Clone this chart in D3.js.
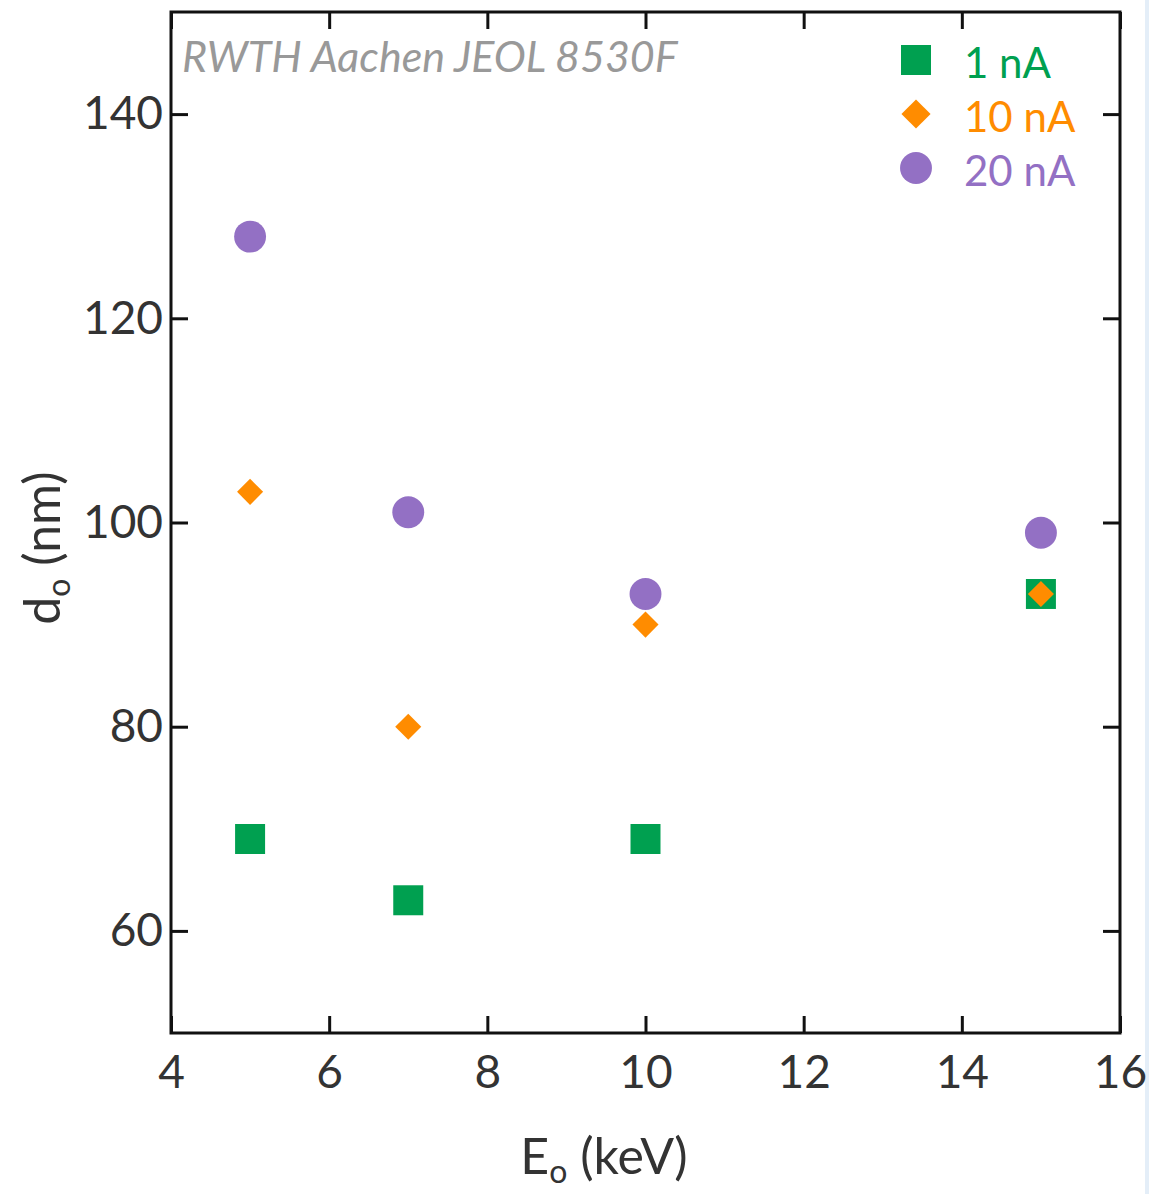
<!DOCTYPE html>
<html><head><meta charset="utf-8">
<script src="https://cdn.jsdelivr.net/npm/d3@7"></script>
<style>html,body{margin:0;padding:0;background:#fff;}svg{display:block;}</style>
</head><body>
<script>
const energies = [5, 7, 10, 15];
const d1nA = [69, 63, 69, 93];
const d10nA = [103, 80, 90, 93];
const d20nA = [128, 101, 93, 99];
const seriesNames = ["1 nA", "10 nA", "20 nA"];
const xTicks = [4, 6, 8, 10, 12, 14, 16];
const yTicks = [60, 80, 100, 120, 140];
const colors = ["#00a050", "#ff8c00", "#9370c4"];

const W = 1149, H = 1194;
const m = {l: 171, r: 1120, t: 12, b: 1033};
const svg = d3.select("body").append("svg").attr("width", W).attr("height", H);
svg.append("rect").attr("x", 1145).attr("y", 0).attr("width", 4).attr("height", H).attr("fill", "#e4eef8");

const x = d3.scaleLinear().domain([4, 16]).range([m.l, m.r]);
const y = d3.scaleLinear().domain([50, 150]).range([m.b, m.t]);
const font = "Lato, 'Open Sans', sans-serif";
const tickLen = 17;

function styleAxis(g) {
  g.select(".domain").remove();
  g.selectAll(".tick line").attr("stroke", "#111").attr("stroke-width", 3);
  g.selectAll(".tick text").attr("fill", "#333").style("font-family", font).style("font-size", "46px");
}
svg.append("g").attr("transform", `translate(0,${m.b})`)
  .call(d3.axisBottom(x).tickValues(xTicks).tickSizeInner(-tickLen).tickPadding(22).tickFormat(d3.format("d")))
  .call(styleAxis);
svg.append("g").attr("transform", `translate(0,${m.t})`)
  .call(d3.axisTop(x).tickValues(xTicks).tickSizeInner(-tickLen).tickFormat(""))
  .call(styleAxis);
svg.append("g").attr("transform", `translate(${m.l},0)`)
  .call(d3.axisLeft(y).tickValues(yTicks).tickSizeInner(-tickLen).tickPadding(8).tickFormat(d3.format("d")))
  .call(styleAxis);
svg.append("g").attr("transform", `translate(${m.r},0)`)
  .call(d3.axisRight(y).tickValues(yTicks).tickSizeInner(-tickLen).tickFormat(""))
  .call(styleAxis);

svg.append("rect").attr("x", m.l).attr("y", m.t).attr("width", m.r - m.l).attr("height", m.b - m.t)
  .attr("fill", "none").attr("stroke", "#111").attr("stroke-width", 3);

const shapes = [d3.symbolSquare, d3.symbolSquare, d3.symbolCircle];
const rot = [0, 45, 0];
const sizes = [900, 340, 800];
const allSeries = [d1nA, d10nA, d20nA];
const order = [2, 0, 1];
order.forEach(si => {
  const sym = d3.symbol().type(shapes[si]).size(sizes[si]);
  svg.append("g").selectAll("path").data(energies.map((e, i) => ({e, v: allSeries[si][i]})))
    .join("path").attr("d", sym)
    .attr("transform", d => `translate(${x(d.e)},${y(d.v)}) rotate(${rot[si]})`)
    .attr("fill", colors[si]);
});

// title
svg.append("text").attr("x", 182).attr("y", 72).text("RWTH Aachen JEOL 8530F")
  .attr("fill", "#999").style("font-family", font).style("font-style", "italic").style("font-size", "43px");

// legend
const lg = svg.append("g");
seriesNames.forEach((n, i) => {
  const cy = 60 + i * 54;
  lg.append("path").attr("d", d3.symbol().type(shapes[i]).size(sizes[i] * (i === 1 ? 1.25 : 1))())
    .attr("transform", `translate(916,${cy}) rotate(${rot[i]})`).attr("fill", colors[i]);
  lg.append("text").attr("x", 964).attr("y", cy + 18).text(n).attr("fill", colors[i])
    .style("font-family", font).style("font-size", "42px");
});

// axis labels
const xl = svg.append("text").attr("x", 604).attr("y", 1174).attr("text-anchor", "middle")
  .attr("fill", "#333").style("font-family", font).style("font-size", "50px");
xl.append("tspan").text("E");
xl.append("tspan").attr("dy", 9).style("font-size", "32px").text("o");
xl.append("tspan").attr("dy", -9).text(" (keV)");

const yl = svg.append("text").attr("transform", "translate(60,548) rotate(-90)").attr("text-anchor", "middle")
  .attr("fill", "#333").style("font-family", font).style("font-size", "50px");
yl.append("tspan").text("d");
yl.append("tspan").attr("dy", 10).style("font-size", "32px").text("o");
yl.append("tspan").attr("dy", -10).text(" (nm)");
</script>
</body></html>
